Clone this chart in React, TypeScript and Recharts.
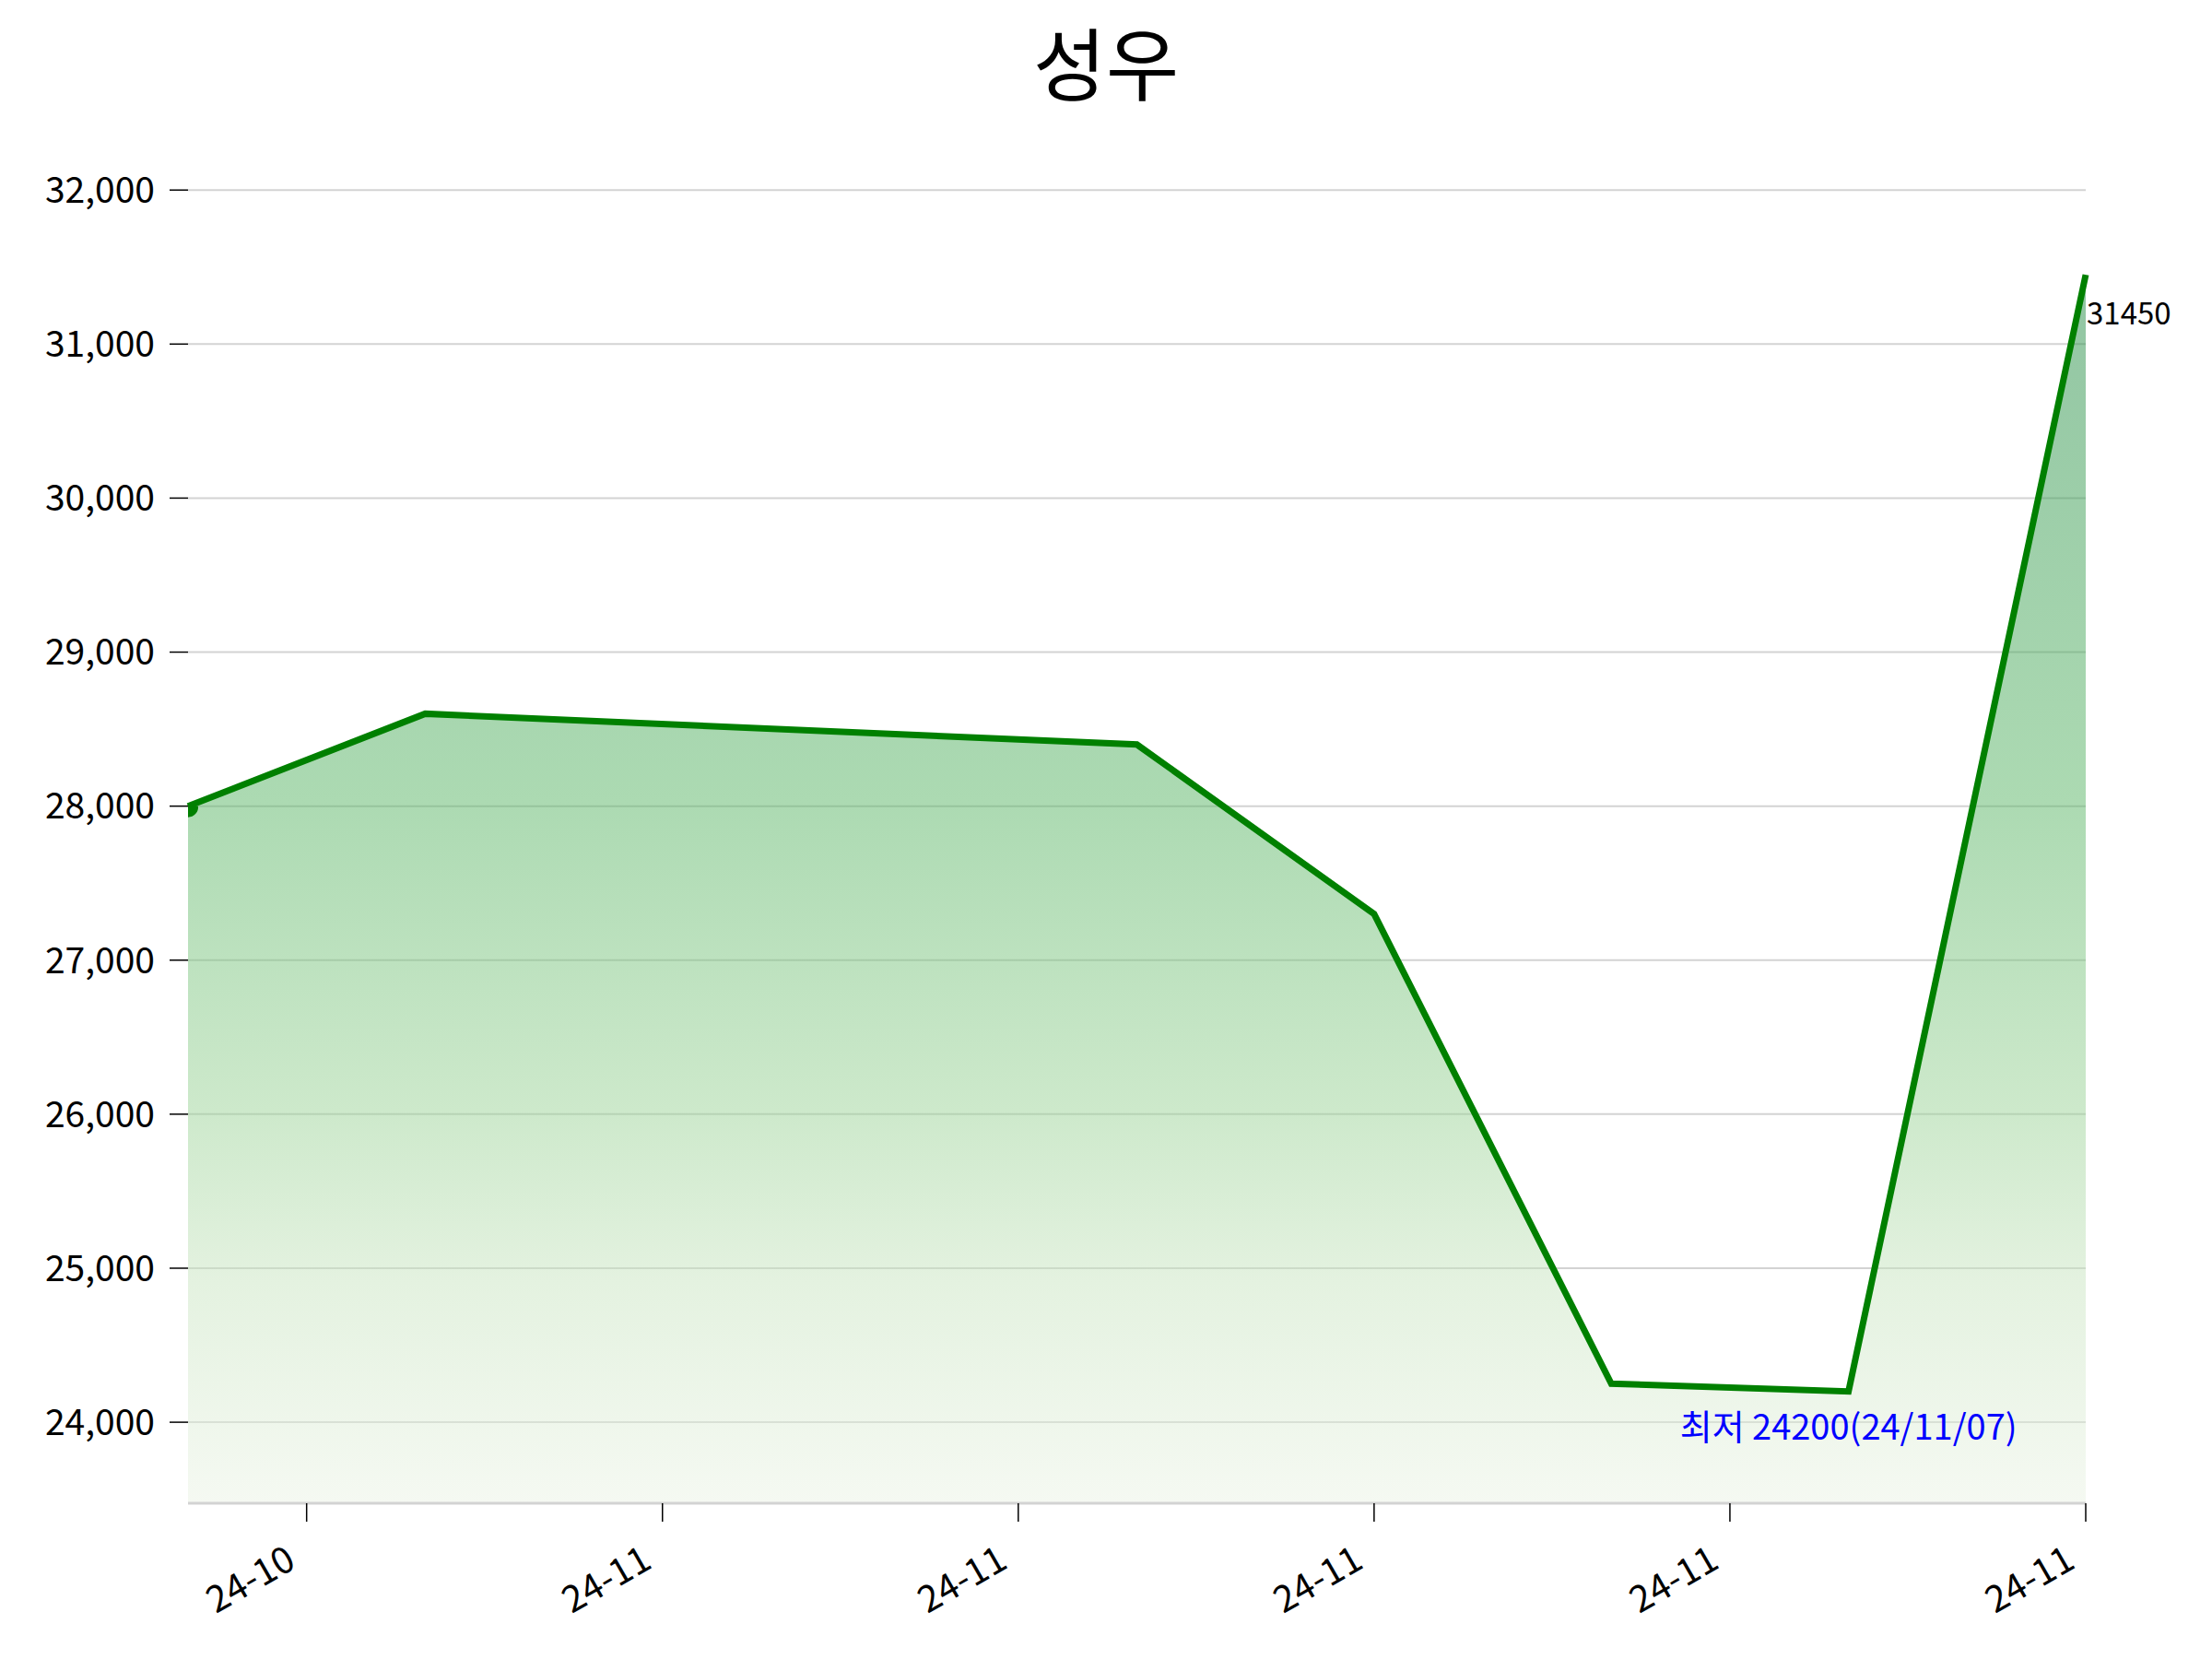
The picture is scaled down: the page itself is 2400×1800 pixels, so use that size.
import React from 'react';
import {
  AreaChart,
  Area,
  XAxis,
  YAxis,
  CartesianGrid,
  LabelList,
} from 'recharts';

// trading days and closing prices
const dates = ['2024-10-31', '2024-11-01', '2024-11-04', '2024-11-05', '2024-11-06', '2024-11-07', '2024-11-08'];
const prices = [28000, 28600, 28400, 27300, 24250, 24200, 31450];

// x ticks (date locator positions) and their labels
const xTickDates = ['2024-10-31T12:00', '2024-11-02T00:00', '2024-11-03T12:00', '2024-11-05T00:00', '2024-11-06T12:00', '2024-11-08T00:00'];
const xTickLabels = ['24-10', '24-11', '24-11', '24-11', '24-11', '24-11'];

const yTicks = [24000, 25000, 26000, 27000, 28000, 29000, 30000, 31000, 32000];

const TITLE = '성우';
const FONT = '"Noto Sans CJK KR", "Noto Sans", sans-serif';

const toTime = (s: string) => Date.parse((s.length === 10 ? s + 'T00:00' : s) + ':00Z');

const data = dates.map((d, i) => ({ t: toTime(d), price: prices[i] }));
const xTicks = xTickDates.map(toTime);

const minPrice = Math.min(...prices);
const minIdx = prices.indexOf(minPrice);
const lastIdx = prices.length - 1;
const minDate = dates[minIdx].slice(2).replace(/-/g, '/');

// rotated date labels, right end near the tick
// eslint-disable-next-line @typescript-eslint/no-explicit-any
const XTick = (props: any) => {
  const { x, y, payload } = props;
  const i = xTicks.indexOf(payload.value);
  return (
    <g transform={`translate(${x - 24},${y + 22}) rotate(-30)`}>
      <text textAnchor="end" dy="0.72em" fontSize={40} fontFamily={FONT} fill="#000">
        {xTickLabels[i]}
      </text>
    </g>
  );
};

// eslint-disable-next-line @typescript-eslint/no-explicit-any
const renderLabel = (props: any) => {
  const { x, y, value, index } = props;
  if (index === minIdx || value === minPrice) {
    return (
      <text x={x} y={y + 52} textAnchor="middle" fontSize={38} fontFamily={FONT} fill="#0000ff">
        {`최저 ${value}(${minDate})`}
      </text>
    );
  }
  if (index === lastIdx) {
    return (
      <text x={x + 1} y={y + 54} textAnchor="start" fontSize={33} fontFamily={FONT} fill="#000">
        {value}
      </text>
    );
  }
  return null;
};

// eslint-disable-next-line @typescript-eslint/no-explicit-any
const renderDot = (props: any) => {
  const { cx, cy, index } = props;
  if (index !== 0) return <g key={`d${index}`} />;
  return (
    <path
      key="d0"
      d={`M${cx},${cy} L${cx + 11},${cy} A11,11 0 0 1 ${cx},${cy + 12} Z`}
      fill="#008000"
    />
  );
};

export default function App() {
  return (
    <div style={{ position: 'absolute', left: 0, top: 0, width: 2400, height: 1800, background: '#fff' }}>
      <svg width={2400} height={160} style={{ position: 'absolute', left: 0, top: 0 }}>
        <text x={1200} y={103} textAnchor="middle" fontSize={86} fontFamily={FONT} fill="#000">
          {TITLE}
        </text>
      </svg>
      <AreaChart
        width={2400}
        height={1800}
        data={data}
        margin={{ top: 193, right: 137, bottom: 0, left: 0 }}
      >
        <defs>
          <linearGradient id="priceFill" x1="0" y1="0" x2="0" y2="1">
            <stop offset="0" stopColor="#238b45" stopOpacity={0.5} />
            <stop offset="0.43" stopColor="#59b565" stopOpacity={0.5} />
            <stop offset="0.68" stopColor="#9bd397" stopOpacity={0.5} />
            <stop offset="0.82" stopColor="#c9e5c1" stopOpacity={0.5} />
            <stop offset="1" stopColor="#ebf3e5" stopOpacity={0.5} />
          </linearGradient>
        </defs>
        <CartesianGrid vertical={false} horizontalValues={yTicks} stroke="#d3d3d3" strokeWidth={2} />
        <XAxis
          dataKey="t"
          type="number"
          domain={[xTicks[0] - 43200000, xTicks[xTicks.length - 1]]}
          ticks={xTicks}
          height={169}
          tick={<XTick />}
          tickSize={20}
          axisLine={{ stroke: '#d3d3d3', strokeWidth: 3 }}
          tickLine={{ stroke: '#000', strokeWidth: 1.5 }}
          interval={0}
        />
        <YAxis
          type="number"
          domain={[23474, 32079]}
          ticks={yTicks}
          allowDataOverflow
          width={204}
          axisLine={false}
          tickLine={{ stroke: '#000', strokeWidth: 1.5 }}
          tickSize={20}
          tickMargin={16}
          tickFormatter={(v: number) => v.toLocaleString('en-US')}
          tick={{ fontSize: 39, fontFamily: FONT, fill: '#000' }}
          interval={0}
        />
        <Area
          type="linear"
          dataKey="price"
          stroke="#008000"
          strokeWidth={7}
          fill="url(#priceFill)"
          fillOpacity={1}
          dot={renderDot}
          activeDot={false}
          isAnimationActive={false}
        >
          <LabelList dataKey="price" content={renderLabel} />
        </Area>
      </AreaChart>
    </div>
  );
}
